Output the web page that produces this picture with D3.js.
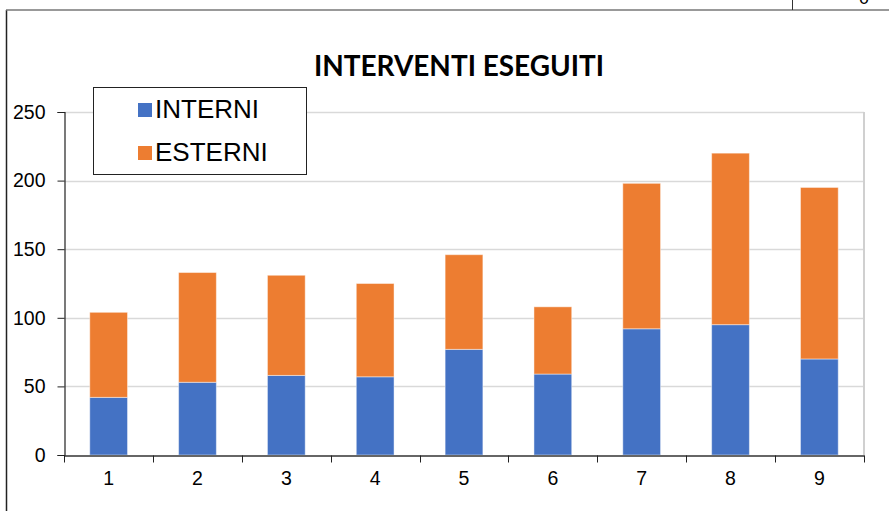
<!DOCTYPE html>
<html>
<head>
<meta charset="utf-8">
<script src="https://cdn.jsdelivr.net/npm/d3@7"></script>
<style>
  body { margin: 0; background: #fff; }
  svg { display: block; }
  .tick text { font-family: Arial, "Liberation Sans", sans-serif; }
</style>
</head>
<body>
<div id="container"></div>
<script>
const categories = ["1", "2", "3", "4", "5", "6", "7", "8", "9"];
const interni = [42, 53, 58, 57, 77, 59, 92, 95, 70];
const esterni = [62, 80, 73, 68, 69, 49, 106, 125, 125];
const seriesNames = ["INTERNI", "ESTERNI"];
const yTicks = [0, 50, 100, 150, 200, 250];

const w = 889;
const h = 511;
const pad = { top: 112, bottom: 56, left: 64, right: 25 };
const colors = ["#4472C4", "#ED7D31"];

const rows = categories.map((c, i) => ({
  cat: c,
  INTERNI: interni[i],
  ESTERNI: esterni[i]
}));

const stacked = d3.stack().keys(seriesNames)(rows);

const x = d3
  .scaleBand()
  .domain(categories)
  .range([pad.left, w - pad.right])
  .paddingInner(0.575)
  .paddingOuter(0.29);

const y = d3
  .scaleLinear()
  .domain([0, 250])
  .range([h - pad.bottom, pad.top]);

const svg = d3
  .select("#container")
  .append("svg")
  .attr("width", w)
  .attr("height", h);

// outer frame of the sheet
svg.append("line")
  .attr("x1", 6.5).attr("x2", 6.5).attr("y1", 10).attr("y2", h)
  .attr("stroke", "#222").attr("stroke-width", 1.5);
svg.append("line")
  .attr("x1", 6).attr("x2", w).attr("y1", 10).attr("y2", 10)
  .attr("stroke", "#777").attr("stroke-width", 1.5);
svg.append("line")
  .attr("x1", 792.5).attr("x2", 792.5).attr("y1", 0).attr("y2", 10)
  .attr("stroke", "#333").attr("stroke-width", 1);
svg.append("text")
  .attr("x", 864).attr("y", 4)
  .attr("text-anchor", "middle")
  .style("font-family", "Arial, 'Liberation Sans', sans-serif")
  .style("font-size", "18px")
  .text("0");

// gridlines
svg.append("g")
  .selectAll("line")
  .data(yTicks.filter((d) => d > 0))
  .enter()
  .append("line")
  .attr("x1", pad.left)
  .attr("x2", w - pad.right)
  .attr("y1", (d) => Math.round(y(d)) + 0.5)
  .attr("y2", (d) => Math.round(y(d)) + 0.5)
  .attr("stroke", "#d9d9d9")
  .attr("stroke-width", 1.5);

// right border of plot area
svg.append("line")
  .attr("x1", w - pad.right).attr("x2", w - pad.right)
  .attr("y1", pad.top).attr("y2", h - pad.bottom)
  .attr("stroke", "#d0d0d0").attr("stroke-width", 2);

// bars
svg.append("g")
  .selectAll("g")
  .data(stacked)
  .enter()
  .append("g")
  .attr("fill", (d, i) => colors[i])
  .selectAll("rect")
  .data((d) => d)
  .enter()
  .append("rect")
  .attr("x", (d) => x(d.data.cat))
  .attr("width", x.bandwidth())
  .attr("y", (d) => y(d[1]))
  .attr("height", (d) => y(d[0]) - y(d[1]))
  .attr("stroke", "rgba(255,255,255,0.45)")
  .attr("stroke-width", 1);

// y axis
const yAxis = d3.axisLeft(y).tickValues(yTicks).tickSize(7).tickPadding(12);
const gy = svg.append("g")
  .attr("transform", `translate(${pad.left + 0.5},0)`)
  .call(yAxis);
gy.selectAll("text").style("font-size", "19.5px").attr("fill", "#000");
gy.selectAll("line").attr("stroke", "#222");
gy.select(".domain").attr("stroke", "#222").attr("stroke-width", 1.2);

// x axis
const xAxis = d3.axisBottom(x).tickSize(0).tickPadding(16);
const gx = svg.append("g")
  .attr("transform", `translate(0,${h - pad.bottom + 0.5})`)
  .call(xAxis);
gx.selectAll("text").style("font-size", "19.5px").attr("fill", "#000");
gx.select(".domain").attr("stroke", "#333").attr("stroke-width", 1.5);

// ticks sit on the category boundaries
const boundaries = d3.range(categories.length + 1).map(
  (i) => pad.left + i * (x.range()[1] - x.range()[0]) / categories.length
);
gx.selectAll(".bound")
  .data(boundaries)
  .enter()
  .append("line")
  .attr("class", "bound")
  .attr("x1", (d) => Math.round(d) + 0.5)
  .attr("x2", (d) => Math.round(d) + 0.5)
  .attr("y1", 0)
  .attr("y2", 7)
  .attr("stroke", "#222");

// title
svg.append("text")
  .attr("x", 459)
  .attr("y", 76)
  .attr("text-anchor", "middle")
  .attr("textLength", 290)
  .attr("lengthAdjust", "spacingAndGlyphs")
  .style("font-family", "Lato, 'Open Sans', sans-serif")
  .style("font-weight", "bold")
  .style("font-size", "29px")
  .attr("fill", "#000")
  .text("INTERVENTI ESEGUITI");

// legend
const legend = svg.append("g");
legend.append("rect")
  .attr("x", 93.5).attr("y", 87.5)
  .attr("width", 213).attr("height", 87)
  .attr("fill", "#fff")
  .attr("stroke", "#222").attr("stroke-width", 1);

const legendItems = legend
  .selectAll(".item")
  .data(seriesNames)
  .enter()
  .append("g")
  .attr("class", "item")
  .attr("transform", (d, i) => `translate(138,${103 + i * 43})`);

legendItems.append("rect")
  .attr("width", 14).attr("height", 14)
  .attr("fill", (d, i) => colors[i]);

legendItems.append("text")
  .attr("x", 17)
  .attr("y", 14.5)
  .style("font-family", "Arial, 'Liberation Sans', sans-serif")
  .style("font-size", "26px")
  .attr("fill", "#000")
  .text((d) => d);
</script>
</body>
</html>
